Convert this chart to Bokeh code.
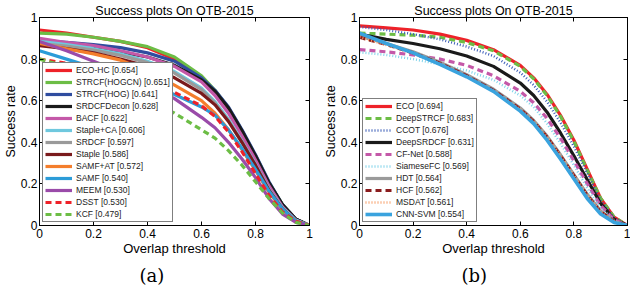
from bokeh.plotting import figure
from bokeh.models import Range1d, LinearAxis, FixedTicker, Legend, LegendItem, Title
from bokeh.layouts import row
from bokeh.embed import file_html
from bokeh.resources import INLINE

# ---------------- data ----------------
thresholds = [0, 0.1, 0.2, 0.3, 0.4, 0.5, 0.6, 0.65, 0.7, 0.75, 0.8, 0.85, 0.9, 0.95, 1.0]
tick_values = [0, 0.2, 0.4, 0.6, 0.8, 1.0]
tick_labels = ["0", "0.2", "0.4", "0.6", "0.8", "1"]

# panel (a)
a_names = ["ECO-HC", "STRCF(HOGCN)", "STRCF(HOG)", "SRDCFDecon", "BACF", "Staple+CA",
           "SRDCF", "Staple", "SAMF+AT", "SAMF", "MEEM", "DSST", "KCF"]
a_auc = [0.654, 0.651, 0.641, 0.628, 0.622, 0.606, 0.597, 0.586, 0.572, 0.540, 0.530, 0.530, 0.479]
eco_hc      = [0.940, 0.925, 0.905, 0.885, 0.855, 0.800, 0.715, 0.645, 0.560, 0.450, 0.330, 0.200, 0.095, 0.030, 0]
strcf_hogcn = [0.925, 0.920, 0.905, 0.885, 0.860, 0.810, 0.720, 0.650, 0.565, 0.455, 0.335, 0.205, 0.100, 0.030, 0]
strcf_hog   = [0.890, 0.880, 0.870, 0.855, 0.830, 0.790, 0.710, 0.650, 0.570, 0.460, 0.340, 0.210, 0.100, 0.030, 0]
srdcfdecon  = [0.870, 0.860, 0.850, 0.835, 0.810, 0.770, 0.700, 0.645, 0.565, 0.455, 0.335, 0.205, 0.100, 0.030, 0]
bacf        = [0.900, 0.880, 0.865, 0.840, 0.810, 0.765, 0.690, 0.625, 0.540, 0.430, 0.315, 0.190, 0.090, 0.025, 0]
staple_ca   = [0.885, 0.870, 0.850, 0.825, 0.790, 0.740, 0.660, 0.595, 0.510, 0.405, 0.295, 0.175, 0.085, 0.025, 0]
srdcf       = [0.875, 0.862, 0.843, 0.818, 0.783, 0.733, 0.653, 0.588, 0.503, 0.398, 0.288, 0.170, 0.080, 0.020, 0]
staple      = [0.865, 0.850, 0.830, 0.800, 0.765, 0.710, 0.635, 0.580, 0.500, 0.400, 0.290, 0.170, 0.080, 0.020, 0]
samf_at     = [0.875, 0.850, 0.825, 0.795, 0.745, 0.675, 0.600, 0.540, 0.460, 0.365, 0.265, 0.160, 0.075, 0.020, 0]
samf        = [0.840, 0.800, 0.760, 0.720, 0.680, 0.630, 0.570, 0.530, 0.460, 0.370, 0.270, 0.165, 0.080, 0.020, 0]
meem        = [0.885, 0.840, 0.790, 0.740, 0.680, 0.610, 0.520, 0.470, 0.400, 0.320, 0.230, 0.130, 0.055, 0.015, 0]
dsst        = [0.800, 0.780, 0.755, 0.725, 0.690, 0.640, 0.575, 0.525, 0.450, 0.355, 0.250, 0.145, 0.065, 0.020, 0]
kcf         = [0.800, 0.765, 0.720, 0.670, 0.610, 0.540, 0.460, 0.420, 0.360, 0.290, 0.210, 0.130, 0.060, 0.015, 0]
a_series = [eco_hc, strcf_hogcn, strcf_hog, srdcfdecon, bacf, staple_ca, srdcf, staple,
            samf_at, samf, meem, dsst, kcf]

# panel (b)
b_names = ["ECO", "DeepSTRCF", "CCOT", "DeepSRDCF", "CF-Net", "SiameseFC", "HDT", "HCF",
           "MSDAT", "CNN-SVM"]
b_auc = [0.694, 0.683, 0.676, 0.631, 0.588, 0.569, 0.564, 0.562, 0.561, 0.554]
eco       = [0.960, 0.950, 0.940, 0.920, 0.890, 0.845, 0.770, 0.710, 0.630, 0.530, 0.410, 0.270, 0.130, 0.040, 0]
deepstrcf = [0.925, 0.920, 0.915, 0.905, 0.880, 0.840, 0.765, 0.705, 0.625, 0.525, 0.405, 0.265, 0.130, 0.040, 0]
ccot      = [0.955, 0.940, 0.920, 0.895, 0.860, 0.815, 0.735, 0.675, 0.595, 0.495, 0.380, 0.250, 0.120, 0.035, 0]
deepsrdcf = [0.920, 0.895, 0.875, 0.850, 0.815, 0.765, 0.685, 0.625, 0.545, 0.445, 0.335, 0.220, 0.105, 0.030, 0]
cfnet     = [0.846, 0.835, 0.820, 0.800, 0.770, 0.720, 0.645, 0.590, 0.515, 0.420, 0.310, 0.200, 0.095, 0.030, 0]
siamesefc = [0.833, 0.820, 0.800, 0.775, 0.745, 0.700, 0.625, 0.570, 0.490, 0.395, 0.290, 0.180, 0.085, 0.025, 0]
hdt       = [0.910, 0.875, 0.835, 0.785, 0.725, 0.655, 0.565, 0.505, 0.430, 0.340, 0.245, 0.150, 0.070, 0.020, 0]
hcf       = [0.905, 0.870, 0.830, 0.780, 0.720, 0.650, 0.560, 0.500, 0.425, 0.335, 0.240, 0.145, 0.065, 0.020, 0]
msdat     = [0.905, 0.868, 0.828, 0.778, 0.718, 0.648, 0.558, 0.500, 0.425, 0.335, 0.240, 0.145, 0.065, 0.020, 0]
cnn_svm   = [0.925, 0.875, 0.830, 0.775, 0.715, 0.645, 0.550, 0.490, 0.410, 0.320, 0.225, 0.130, 0.055, 0.015, 0]
b_series = [eco, deepstrcf, ccot, deepsrdcf, cfnet, siamesefc, hdt, hcf, msdat, cnn_svm]

# ---------------- styles ----------------
a_colors = ["#EE2229", "#6CBD45", "#2F4C9F", "#1A1A1A", "#C458A8", "#6FC8DE", "#9A9A9A",
            "#7A1A1C", "#F47E2C", "#2C9CD8", "#9A4BA9", "#EE2229", "#6CBD45"]
a_dash = ["solid"] * 11 + ["6 4", "6 4"]
b_colors = ["#EE2229", "#6CBD45", "#3B5DB8", "#1A1A1A", "#C458A8", "#7FD3EA", "#9A9A9A",
            "#8A1C1E", "#F7A06A", "#3AA3DE"]
b_dash = ["solid", "6 4", "1 2", "solid", "6 4", "1 2", "solid", "6 4", "1 2", "solid"]
b_width = [3.2, 3.2, 2.5, 3.2, 3.2, 2.5, 3.2, 3.2, 2.5, 3.6]

FONT = "Liberation Sans"


def make_panel(names, aucs, series, colors, dashes, widths, width, bl, br, tag, tag_off,
               leg_h, leg_sp):
    p = figure(width=width, height=290, output_backend="svg", toolbar_location=None,
               x_range=Range1d(0, 1), y_range=Range1d(0, 1),
               min_border_left=bl, min_border_right=br, min_border_top=14,
               min_border_bottom=30, x_axis_location=None, y_axis_location=None)
    p.background_fill_color = "white"
    p.border_fill_color = "white"
    p.outline_line_color = "black"
    p.outline_line_width = 1
    p.xgrid.visible = False
    p.ygrid.visible = False

    overrides = {v: t for v, t in zip(tick_values, tick_labels)}

    def style_axis(ax, show_labels):
        ax.ticker = FixedTicker(ticks=tick_values)
        ax.minor_tick_line_color = None
        ax.major_tick_in = 4
        ax.major_tick_out = 0
        ax.axis_line_color = "black"
        ax.major_tick_line_color = "black"
        if show_labels:
            ax.major_label_overrides = overrides
            ax.major_label_text_font = FONT
            ax.major_label_text_font_size = "12px"
            ax.major_label_text_color = "black"
        else:
            ax.major_label_text_font_size = "1px"
            ax.major_label_text_alpha = 0
            ax.major_label_standoff = 0
        ax.axis_label_text_font = FONT
        ax.axis_label_text_font_style = "normal"
        ax.axis_label_text_color = "black"

    xb = LinearAxis(axis_label="Overlap threshold")
    style_axis(xb, True)
    xb.major_label_standoff = 3
    xb.axis_label_standoff = 0
    xb.axis_label_text_font_size = "13px"
    p.add_layout(xb, "below")

    yl = LinearAxis(axis_label="Success rate")
    style_axis(yl, True)
    yl.major_label_standoff = 2
    yl.axis_label_standoff = 0
    yl.axis_label_text_font_size = "12.5px"
    p.add_layout(yl, "left")

    xt = LinearAxis(axis_label="Success plots On OTB-2015")
    style_axis(xt, False)
    xt.axis_label_standoff = 0
    xt.axis_label_text_font_size = "12.5px"
    p.add_layout(xt, "above")

    yr = LinearAxis()
    style_axis(yr, False)
    p.add_layout(yr, "right")

    items = []
    for name, auc, ys, c, d, w in zip(names, aucs, series, colors, dashes, widths):
        r = p.line(thresholds, ys, line_color=c, line_width=w, line_dash=d)
        items.append(LegendItem(label=f"{name} [{auc:.3f}]", renderers=[r]))

    leg = Legend(items=items, location="bottom_left", margin=3, padding=2,
                 spacing=leg_sp, label_height=leg_h, glyph_height=leg_h, glyph_width=27,
                 label_standoff=4, label_text_font=FONT, label_text_font_size="8.5px",
                 label_text_color="#222222", border_line_color="black",
                 border_line_width=1, background_fill_color="white",
                 background_fill_alpha=1.0)
    p.add_layout(leg, "center")

    t = Title(text=tag, align="left", offset=tag_off, standoff=9,
              text_font="DejaVu Serif", text_font_size="18px", text_font_style="normal",
              text_color="black")
    p.add_layout(t, "below")
    return p


p1 = make_panel(a_names, a_auc, a_series, a_colors, a_dash, [3.2] * 13, 320, 34, 11,
                "(a)", 100, 10, 2)
p2 = make_panel(b_names, b_auc, b_series, b_colors, b_dash, b_width, 310, 34, 3,
                "(b)", 102, 10, 2)

layout = row(p1, p2)
open("out.html", "w").write(file_html(layout, INLINE))
